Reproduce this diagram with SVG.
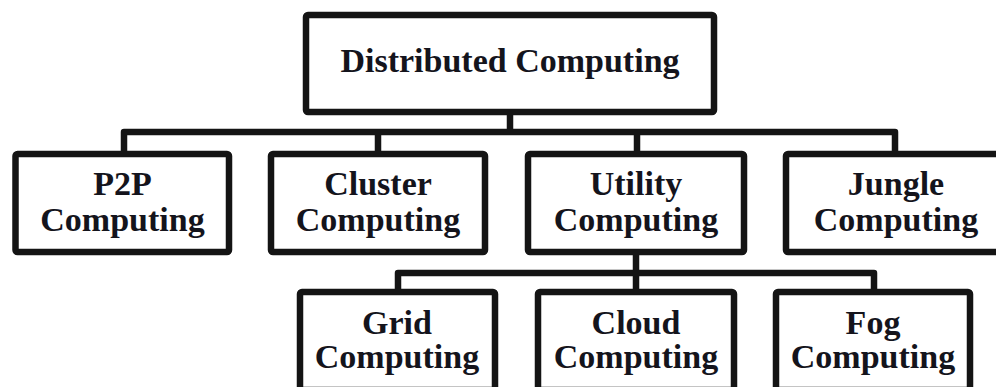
<svg xmlns="http://www.w3.org/2000/svg" width="996" height="387" viewBox="0 0 996 387">
  <style>
    .box { fill: #ffffff; stroke: #141414; stroke-width: 6.5; stroke-linejoin: round; }
    .link { fill: none; stroke: #141414; stroke-width: 6.5; stroke-linejoin: round; stroke-linecap: butt; }
    .label { font-family: "Liberation Serif", "Times New Roman", serif; font-weight: bold; font-size: 34px; fill: #14141c; text-anchor: middle; }
  </style>
  <rect width="996" height="387" fill="#ffffff"/>

  <!-- tree connectors -->
  <g id="connectors">
    <path class="link" d="M510,115 V132 M124,152 V132 H895 V152 M378,132 V152 M637,132 V152"/>
    <path class="link" d="M636,255 V273 M398,290 V273 H874 V290 M636,273 V290"/>
  </g>

  <g id="distributed">
    <rect class="box" x="306" y="15" width="408" height="97" rx="2"/>
    <text class="label" x="510" y="72">Distributed Computing</text>
  </g>

  <g id="p2p">
    <rect class="box" x="15.5" y="154" width="213.5" height="98" rx="2"/>
    <text class="label" x="122.5" y="195">P2P</text>
    <text class="label" x="122.5" y="231">Computing</text>
  </g>

  <g id="cluster">
    <rect class="box" x="271" y="154" width="214" height="98" rx="2"/>
    <text class="label" x="378" y="195">Cluster</text>
    <text class="label" x="378" y="231">Computing</text>
  </g>

  <g id="utility">
    <rect class="box" x="528" y="154" width="216" height="98" rx="2"/>
    <text class="label" x="636" y="195">Utility</text>
    <text class="label" x="636" y="231">Computing</text>
  </g>

  <g id="jungle">
    <rect class="box" x="786" y="154" width="220" height="98" rx="2"/>
    <text class="label" x="896" y="195">Jungle</text>
    <text class="label" x="896" y="231">Computing</text>
  </g>

  <g id="grid">
    <rect class="box" x="300" y="292" width="195" height="98" rx="2"/>
    <text class="label" x="397" y="334">Grid</text>
    <text class="label" x="397" y="368">Computing</text>
  </g>

  <g id="cloud">
    <rect class="box" x="538" y="292" width="196" height="98" rx="2"/>
    <text class="label" x="636" y="334">Cloud</text>
    <text class="label" x="636" y="368">Computing</text>
  </g>

  <g id="fog">
    <rect class="box" x="776" y="292" width="194" height="98" rx="2"/>
    <text class="label" x="873" y="334">Fog</text>
    <text class="label" x="873" y="368">Computing</text>
  </g>
</svg>
